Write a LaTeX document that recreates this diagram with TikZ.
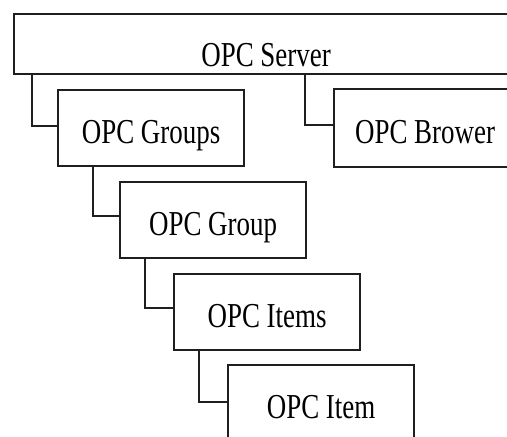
\documentclass[tikz,border=0pt]{standalone}
\usepackage{fontspec}
\setmainfont{Liberation Serif}[FakeStretch=0.77]
\begin{document}
\begin{tikzpicture}[x=1pt,y=-1pt,
  box/.style={draw=black!88, line width=2.2pt, anchor=north west, inner sep=0pt,
    minimum width=186pt, minimum height=76pt, text height=30pt, text depth=0pt,
    font=\fontsize{35}{40}\selectfont},
  link/.style={draw=black!88, line width=2.2pt}]
\useasboundingbox (0,0) rectangle (507,437);
\clip (0,0) rectangle (507,437);
\node[box, minimum width=504pt, minimum height=60pt, text height=44pt] (server) at (13,13) {OPC Server};
\node[box] (groups) at (57,89) {OPC Groups};
\node[box, minimum width=182pt, minimum height=78pt] (brower) at (333,88) {OPC Brower};
\node[box] (group) at (119,181) {OPC Group};
\node[box] (items) at (173,273) {OPC Items};
\node[box] (item) at (227,364) {OPC Item};
\draw[link] ([xshift=19pt]server.south west) |- ([yshift=2pt]groups.west);
\draw[link] ([xshift=292pt]server.south west) |- ([yshift=3pt]brower.west);
\draw[link] ([xshift=36pt]groups.south west) |- ([yshift=4pt]group.west);
\draw[link] ([xshift=26pt]group.south west) |- ([yshift=4pt]items.west);
\draw[link] ([xshift=26pt]items.south west) |- ([yshift=1pt]item.west);
\end{tikzpicture}
\end{document}
